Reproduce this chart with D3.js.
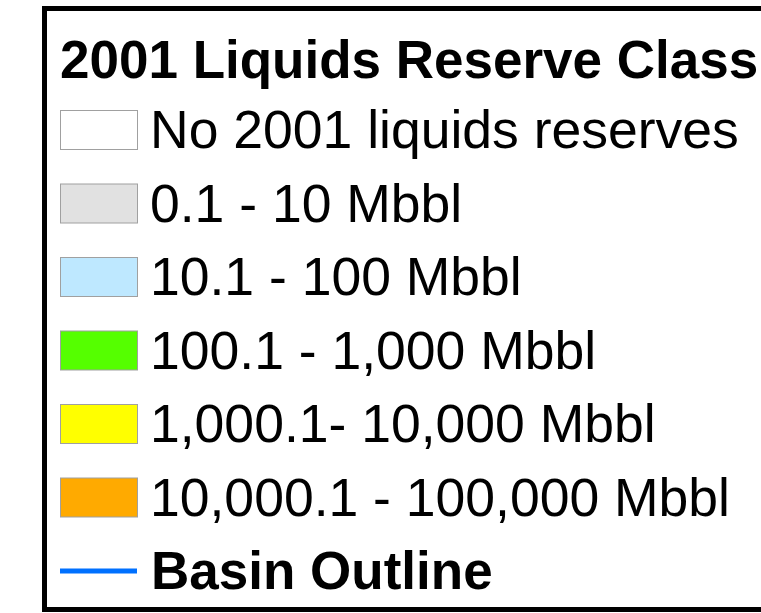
<!DOCTYPE html>
<html>
<head>
<meta charset="utf-8">
<script src="https://cdn.jsdelivr.net/npm/d3@7"></script>
<style>
	html, body { margin: 0; padding: 0; background: #fff; }
	svg { display: block; }
	text { font-family: "Liberation Sans", Arial, Helvetica, sans-serif; fill: #000; }
</style>
</head>
<body>
<div id="legend"></div>
<script>
var title = "2001 Liquids Reserve Class";
var classes = [ "No 2001 liquids reserves", "0.1 - 10 Mbbl", "10.1 - 100 Mbbl",
	"100.1 - 1,000 Mbbl", "1,000.1- 10,000 Mbbl", "10,000.1 - 100,000 Mbbl" ];
var colors = [ "#ffffff", "#e1e1e1", "#bee8ff", "#55ff00", "#ffff00", "#ffaa00" ];
var lineLabel = "Basin Outline";
var lineColor = "#0070ff";


var svg = d3.select("#legend")
	.append("svg")
	.attr("width", 761)
	.attr("height", 613)
;

// frame, right edge runs off the picture
svg.append("rect")
	.attr("x", 44.5)
	.attr("y", 8.5)
	.attr("width", 760)
	.attr("height", 601)
	.attr("fill", "#fff")
	.attr("stroke", "#000")
	.attr("stroke-width", 5)
;

svg.append("text")
	.attr("x", 60)
	.attr("y", 78)
	.attr("font-size", 53)
	.attr("font-weight", "bold")
	.text(title)
;

// one row per class plus the outline row
var y = d3.scaleLinear().domain([0, classes.length]).range([110, 551]);
var x = d3.scaleLinear().domain([0, 1]).range([60, 137]);
var h = 39;

var rows = svg.selectAll(".row").data(classes)
	.enter().append("g")
	.attr("class", "row")
	.attr("transform", (d, i) => "translate(0," + y(i) + ")")
;

rows.append("rect")
	.attr("x", x(0) + 0.5)
	.attr("y", 0.5)
	.attr("width", x(1) - x(0))
	.attr("height", h)
	.attr("fill", (d, i) => colors[i])
	.attr("stroke", "#a0a0a0")
	.attr("stroke-width", 1)
;

rows.append("text")
	.attr("x", 150)
	.attr("y", 38)
	.attr("font-size", 53.5)
	.text((d) => d)
;

var last = svg.append("g")
	.attr("transform", "translate(0," + y(classes.length) + ")");

last.append("line")
	.attr("x1", x(0))
	.attr("x2", x(1))
	.attr("y1", h / 2 + 0.5)
	.attr("y2", h / 2 + 0.5)
	.attr("stroke", lineColor)
	.attr("stroke-width", 5)
;

last.append("text")
	.attr("x", 151)
	.attr("y", 38)
	.attr("font-size", 53)
	.attr("font-weight", "bold")
	.text(lineLabel)
;
</script>
</body>
</html>
